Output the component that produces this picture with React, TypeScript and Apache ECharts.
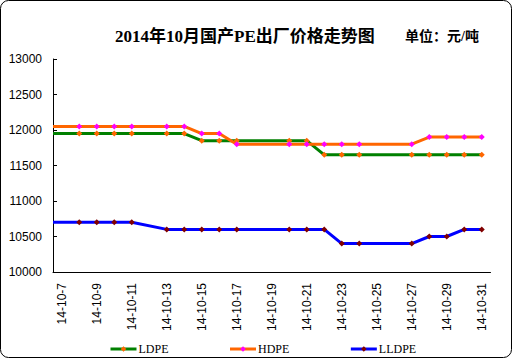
import React, { useEffect, useRef } from "react";
import * as echarts from "echarts";

const categories = [
  "14-10-7", "14-10-8", "14-10-9", "14-10-10", "14-10-11", "14-10-12", "14-10-13",
  "14-10-14", "14-10-15", "14-10-16", "14-10-17", "14-10-18", "14-10-19", "14-10-20",
  "14-10-21", "14-10-22", "14-10-23", "14-10-24", "14-10-25", "14-10-26", "14-10-27",
  "14-10-28", "14-10-29", "14-10-30", "14-10-31",
];
const days = [8, 9, 10, 11, 13, 14, 15, 16, 17, 20, 21, 22, 23, 24, 27, 28, 29, 30, 31];
const ldpe = [11950, 11950, 11950, 11950, 11950, 11950, 11850, 11850, 11850, 11850, 11850, 11650, 11650, 11650, 11650, 11650, 11650, 11650, 11650];
const hdpe = [12050, 12050, 12050, 12050, 12050, 12050, 11950, 11950, 11800, 11800, 11800, 11800, 11800, 11800, 11800, 11900, 11900, 11900, 11900];
const lldpe = [10700, 10700, 10700, 10700, 10600, 10600, 10600, 10600, 10600, 10600, 10600, 10600, 10400, 10400, 10400, 10500, 10500, 10600, 10600];
const yTicks = [10000, 10500, 11000, 11500, 12000, 12500, 13000];

const title = "2014年10月国产PE出厂价格走势图";
const unit = "单位：元/吨";

function build(name: string, vals: number[], color: string, mark: string) {
  const data: any[] = [{ value: [6.5, vals[0]], symbol: "none" }];
  days.forEach((d, i) => data.push([d, vals[i]]));
  return {
    name,
    type: "line",
    xAxisIndex: 1,
    data,
    symbol: "diamond",
    symbolSize: 6,
    clip: true,
    lineStyle: { color, width: 3 },
    itemStyle: { color: mark, borderWidth: 0 },
    color,
  };
}

export default function App() {
  const ref = useRef<HTMLDivElement>(null);
  useEffect(() => {
    if (!ref.current) return;
    const chart = echarts.init(ref.current, null, { renderer: "svg" });
    chart.setOption({
      animation: false,
      backgroundColor: "#ffffff",
      grid: { left: 53, right: 22.5, top: 59, bottom: 88, containLabel: false },
      xAxis: [
        {
          type: "category",
          data: categories,
          boundaryGap: true,
          axisLine: { lineStyle: { color: "#000", width: 1 } },
          axisTick: { inside: true, length: 4, interval: 1, lineStyle: { color: "#000" } },
          axisLabel: {
            interval: 1,
            rotate: 90,
            margin: 11,
            color: "#000",
            fontSize: 12,
            fontFamily: "Liberation Sans, Arial, sans-serif",
          },
          splitLine: { show: false },
        },
        { type: "value", min: 6.5, max: 31.5, show: false },
      ],
      yAxis: {
        type: "value",
        min: yTicks[0],
        max: yTicks[yTicks.length - 1],
        interval: 500,
        axisLine: { show: true, lineStyle: { color: "#000", width: 1 } },
        axisTick: { show: true, inside: true, length: 4, lineStyle: { color: "#000" } },
        axisLabel: {
          margin: 11,
          color: "#000",
          fontSize: 12,
          fontFamily: "Liberation Sans, Arial, sans-serif",
          formatter: (v: number) => String(v),
        },
        splitLine: { show: false },
      },
      legend: {
        left: 104,
        top: 338,
        itemGap: 60,
        itemWidth: 26,
        itemHeight: 7,
        lineStyle: { width: 3 },
        textStyle: { color: "#000", fontSize: 12, fontFamily: "Liberation Serif, serif", padding: [0, 0, 0, -3] },
        data: ["LDPE", "HDPE", "LLDPE"],
      },
      series: [
        build("LDPE", ldpe, "#008000", "#FF6600"),
        build("HDPE", hdpe, "#FF6600", "#FF00FF"),
        build("LLDPE", lldpe, "#0000FF", "#800000"),
      ],
      graphic: [
        {
          type: "rect",
          shape: { x: 0.5, y: 0.5, width: 511, height: 357, r: 8 },
          style: { fill: "none", stroke: "#000", lineWidth: 1 },
          silent: true,
        },
        {
          type: "text",
          x: 115,
          y: 36,
          style: {
            text: title,
            fill: "#000",
            font: "bold 17px 'Liberation Serif', 'Noto Sans CJK SC', serif",
            verticalAlign: "middle",
          },
        },
        {
          type: "text",
          x: 405,
          y: 36,
          style: {
            text: unit,
            fill: "#000",
            font: "bold 14px 'Liberation Serif', 'Noto Sans CJK SC', serif",
            verticalAlign: "middle",
          },
        },
      ],
    });
    return () => chart.dispose();
  }, []);
  return (
    <div
      ref={ref}
      style={{ position: "fixed", left: 0, top: 0, width: 513, height: 360 }}
    />
  );
}
